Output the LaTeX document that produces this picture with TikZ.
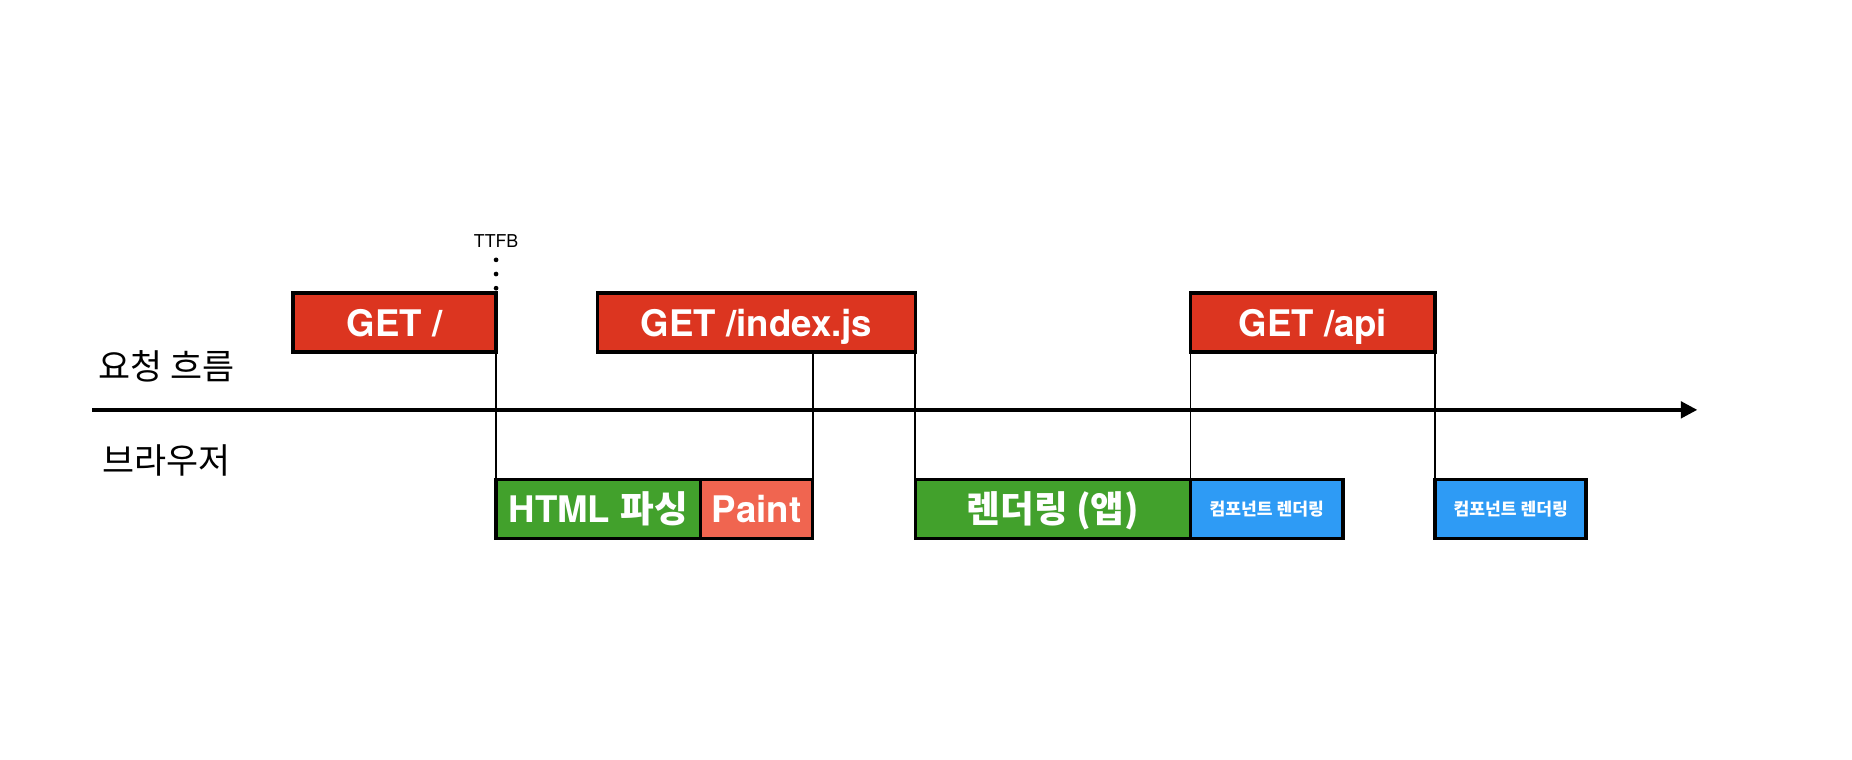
\documentclass[tikz,border=0pt]{standalone}
\usepackage{fontspec}
\setmainfont{TeX Gyre Heros}
\newfontfamily\kr{Noto Sans CJK KR}
\usetikzlibrary{arrows.meta,positioning}
\definecolor{reqred}{RGB}{220,53,32}
\definecolor{paintred}{RGB}{240,101,80}
\definecolor{workgreen}{RGB}{66,161,44}
\definecolor{compblue}{RGB}{46,155,245}
\tikzstyle{req}=[
	rectangle,
	draw=black,
	line width=3,
	fill=reqred,
	text=white,
	font=\bfseries\fontsize{31}{31}\selectfont,
	minimum height=50,
	text height=23,
	text depth=0,
	inner sep=0,
	outer sep=0,
	anchor=north west]
\tikzstyle{work}=[
	req,
	fill=workgreen]
\tikzstyle{comp}=[
	req,
	fill=compblue,
	text height=11,
	font=\kr\bfseries\fontsize{14.5}{14.5}\selectfont]
\tikzstyle{lab}=[
	font=\kr\fontsize{29.5}{29.5}\selectfont]
\tikzstyle{link}=[
	line width=1.5]

\begin{document}
\begin{tikzpicture}[x=1pt,y=-1pt,>={Triangle[length=14pt,width=14pt]}]
	\useasboundingbox (0,0) rectangle (1568,643);
	% requests
	\node[req,minimum width=172]	(get)	at (248,248)	{GET /};
	\node[req,minimum width=269]	(getjs)	at (506,248)	{GET /index.js};
	\node[req,minimum width=207]	(getapi)	at (1008,248)	{GET /api};
	\node[font=\fontsize{15}{15}\selectfont]	(ttfb)	at (420,204)	{TTFB};
	\draw[line width=4,line cap=round,dash pattern=on 0pt off 12pt,dash phase=5pt] (ttfb.south) -- (get.north east);
	% labels and axis
	\node[lab]	(reqlab)	at (141,310)	{요청 흐름};
	\node[lab]	(brlab)	at (141,390)	{브라우저};
	\coordinate (axstart) at (78,347);
	\coordinate (axend) at (1437,347);
	\draw[->,line width=3] (axstart) -- (axend);
	% browser work
	\node[work,minimum width=173]	(html)	at (420,406)	{HTML {\kr 파싱}};
	\node[work,fill=paintred,minimum width=95]	(paint)	[right=0pt of html]	{Paint};
	\node[work,minimum width=233]	(render)	at (775,406)	{\kr 렌더링 (앱)};
	\node[comp,minimum width=129]	(comp1)	[right=0pt of render]	{컴포넌트 렌더링};
	\node[comp,minimum width=128]	(comp2)	at (1215,406)	{컴포넌트 렌더링};
	\draw[link] (get.south east) -- (html.north west);
	\draw[link] (getjs.south -| paint.east) -- (paint.north east);
	\draw[link] (getjs.south east) -- (render.north west);
	\draw[link] (getapi.south west) -- (render.north east);
	\draw[link] (getapi.south east) -- (comp2.north west);
\end{tikzpicture}
\end{document}
